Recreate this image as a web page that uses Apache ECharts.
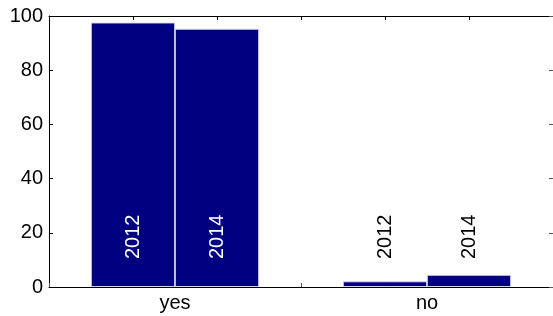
<!DOCTYPE html>
<html>
<head>
<meta charset="utf-8">
<script src="https://cdn.jsdelivr.net/npm/echarts@6/dist/echarts.min.js"></script>
<style>
  html, body { margin: 0; padding: 0; background: #fff; }
  #chart { width: 553px; height: 316px; }
</style>
</head>
<body>
<div id="chart"></div>
<script>
// data
var categories = ['yes', 'no'];
var years = ['2012', '2014'];
var values2012 = [97.6, 2.1];
var values2014 = [95.3, 4.5];
var yTicks = [0, 20, 40, 60, 80, 100];

var gridLeft = 49, gridRight = -2;
var plotWidth = 553 - gridLeft - gridRight;
var slots = categories.length * (years.length + 1);   // 6 slots on the hidden x scale
var barW = plotWidth / slots;
var labelY = 18.5;   // where the rotated year labels sit

// bars at x = 1,2 (yes) and 4,5 (no)
var barData = [];
var labelData = [];
categories.forEach(function (c, i) {
  var vals = [values2012[i], values2014[i]];
  years.forEach(function (y, j) {
    var x = i * (years.length + 1) + j + 1;
    barData.push([x, vals[j]]);
    labelData.push({
      value: [x, labelY],
      label: { formatter: y, color: c === 'yes' ? '#fff' : '#000' }
    });
  });
});

var axisLine = { show: true, onZero: false, lineStyle: { color: '#000', width: 1 } };

var chart = echarts.init(document.getElementById('chart'));
chart.setOption({
  animation: false,
  textStyle: { fontFamily: 'Liberation Sans, Arial, sans-serif' },
  grid: { left: gridLeft, right: gridRight, top: 16, bottom: 29 },
  xAxis: [
    {
      type: 'value', min: 0, max: slots, interval: 1, position: 'bottom',
      axisLine: axisLine,
      axisTick: { show: true, inside: true, length: 4, lineStyle: { color: '#555' } },
      axisLabel: { show: false },
      splitLine: { show: false }
    },
    {
      type: 'value', min: 0, max: slots, interval: 1, position: 'top',
      axisLine: axisLine,
      axisTick: { show: true, inside: true, length: 4, lineStyle: { color: '#000' } },
      axisLabel: { show: false },
      splitLine: { show: false }
    },
    {
      type: 'category', data: categories, position: 'bottom',
      axisLine: { show: false, onZero: false },
      axisTick: { show: false },
      axisLabel: { color: '#000', fontSize: 20, margin: 6 }
    }
  ],
  yAxis: [
    {
      type: 'value', min: 0, max: 100, interval: 20, position: 'left',
      axisLine: axisLine,
      axisTick: { show: true, inside: true, length: 4, lineStyle: { color: '#000' } },
      axisLabel: {
        color: '#000', fontSize: 20, margin: 6,
        formatter: function (v) { return yTicks.indexOf(v) >= 0 ? String(v) : ''; }
      },
      splitLine: { show: false }
    },
    {
      type: 'value', min: 0, max: 100, interval: 20, position: 'right',
      axisLine: axisLine,
      axisTick: { show: true, inside: true, length: 4, lineStyle: { color: '#555' } },
      axisLabel: { show: false },
      splitLine: { show: false }
    }
  ],
  series: [
    {
      type: 'bar',
      xAxisIndex: 0, yAxisIndex: 0,
      data: barData,
      barWidth: barW,
      itemStyle: { color: '#000080', borderColor: 'rgba(220,220,240,0.9)', borderWidth: 1 }
    },
    {
      type: 'scatter',
      xAxisIndex: 0, yAxisIndex: 0,
      data: labelData,
      symbolSize: 0,
      z: 5,
      itemStyle: { opacity: 1 },
      label: {
        show: true, position: 'inside', rotate: 90, opacity: 1,
        fontSize: 20, fontFamily: 'Liberation Sans, Arial, sans-serif'
      }
    }
  ]
});
</script>
</body>
</html>
